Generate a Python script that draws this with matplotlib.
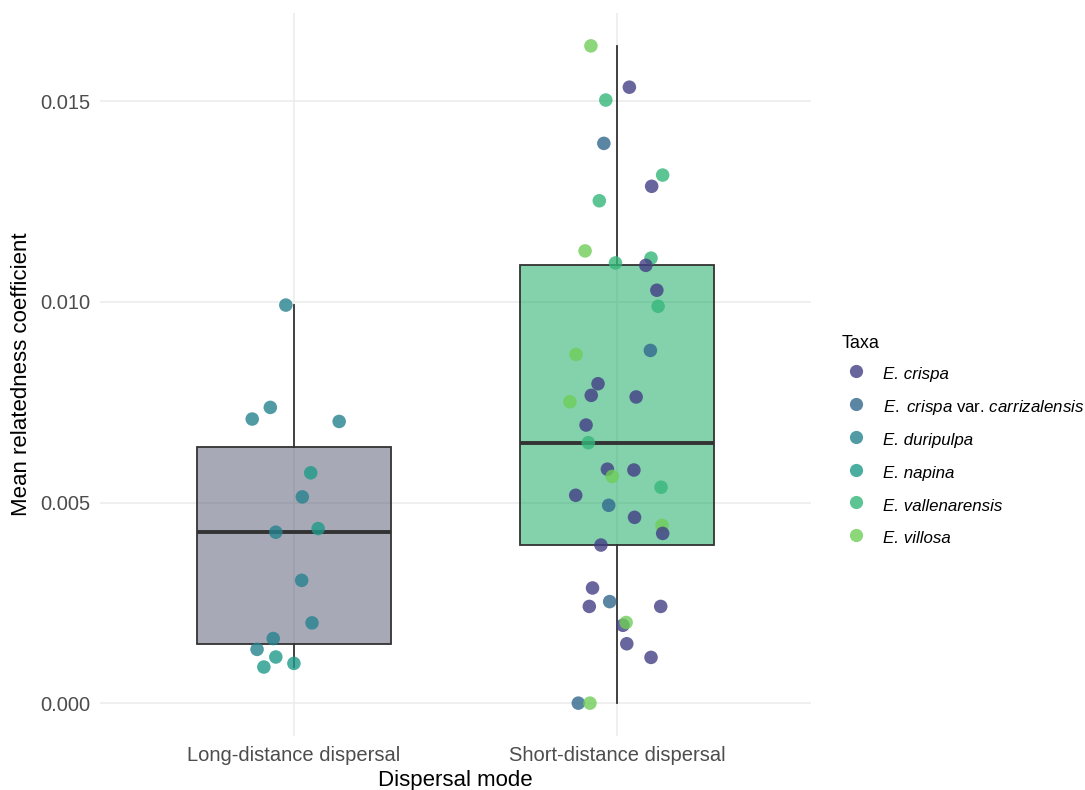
import numpy as np
import matplotlib
matplotlib.use('Agg')
import matplotlib.pyplot as plt
from matplotlib.lines import Line2D

plt.rcParams['font.family'] = 'Liberation Sans'
plt.rcParams['mathtext.fontset'] = 'custom'
plt.rcParams['mathtext.rm'] = 'Liberation Sans'
plt.rcParams['mathtext.it'] = 'Liberation Sans:italic'

# ---- data ----
modes = ['Long-distance dispersal', 'Short-distance dispersal']

taxa = ['E. crispa', 'E. crispa var. carrizalensis', 'E. duripulpa',
        'E. napina', 'E. vallenarensis', 'E. villosa']
taxa_labels = ['E. crispa',
               r'$\mathit{E.}$ $\mathit{crispa}$ var. $\mathit{carrizalensis}$',
               'E. duripulpa', 'E. napina', 'E. vallenarensis', 'E. villosa']
taxa_colours = ['#433e85', '#31688e', '#26828e', '#1f9a8a', '#35b779', '#6ece58']

long_taxa = ['E. duripulpa', 'E. duripulpa', 'E. duripulpa', 'E. duripulpa',
             'E. napina', 'E. duripulpa', 'E. duripulpa', 'E. napina',
             'E. duripulpa', 'E. duripulpa', 'E. duripulpa', 'E. duripulpa',
             'E. napina', 'E. napina', 'E. napina']
long_values = [0.00992, 0.00737, 0.00708, 0.00702, 0.00574, 0.00514, 0.00426,
               0.00435, 0.00306, 0.00200, 0.00161, 0.00134, 0.00115, 0.00090,
               0.00099]
long_jitter = [-0.025, -0.073, -0.129, 0.140, 0.052, 0.026, -0.056, 0.075,
               0.024, 0.056, -0.064, -0.114, -0.056, -0.093, 0.000]

short_taxa = ['E. villosa', 'E. crispa', 'E. vallenarensis',
              'E. crispa var. carrizalensis', 'E. vallenarensis', 'E. crispa',
              'E. vallenarensis', 'E. villosa', 'E. vallenarensis',
              'E. vallenarensis', 'E. crispa', 'E. crispa', 'E. vallenarensis',
              'E. crispa var. carrizalensis', 'E. villosa', 'E. crispa',
              'E. crispa', 'E. crispa', 'E. villosa', 'E. crispa',
              'E. vallenarensis', 'E. crispa', 'E. crispa', 'E. villosa',
              'E. vallenarensis', 'E. crispa', 'E. crispa var. carrizalensis',
              'E. crispa', 'E. villosa', 'E. crispa', 'E. crispa', 'E. crispa',
              'E. crispa var. carrizalensis', 'E. crispa', 'E. crispa',
              'E. crispa', 'E. villosa', 'E. crispa', 'E. crispa',
              'E. crispa var. carrizalensis', 'E. villosa']
short_values = [0.01638, 0.01535, 0.01503, 0.01395, 0.01316, 0.01288, 0.01252,
                0.01127, 0.01097, 0.01109, 0.01091, 0.01029, 0.00989, 0.00879,
                0.00869, 0.00796, 0.00767, 0.00763, 0.00751, 0.00693, 0.00649,
                0.00583, 0.00581, 0.00565, 0.00538, 0.00518, 0.00493, 0.00463,
                0.00443, 0.00423, 0.00394, 0.00287, 0.00253, 0.00241, 0.00241,
                0.00194, 0.00201, 0.00148, 0.00114, 0.00000, 0.00000]
short_jitter = [-0.081, 0.038, -0.035, -0.041, 0.141, 0.107, -0.055, -0.099,
                -0.005, 0.105, 0.089, 0.123, 0.127, 0.103, -0.127, -0.059,
                -0.080, 0.059, -0.146, -0.096, -0.089, -0.030, 0.052, -0.015,
                0.136, -0.128, -0.026, 0.054, 0.139, 0.141, -0.050, -0.076,
                -0.023, -0.086, 0.135, 0.018, 0.028, 0.030, 0.105, -0.120,
                -0.084]

box_fills = [(0.318, 0.333, 0.435, 0.5), (0.035, 0.655, 0.357, 0.5)]

# ---- figure ----
fig = plt.figure(figsize=(10.85, 7.9), dpi=100)
ax = fig.add_axes([100 / 1085, 54 / 790, 711 / 1085, 723 / 790])

bp = ax.boxplot([long_values, short_values], positions=[1, 2], widths=0.6,
                patch_artist=True, showcaps=False, showfliers=False,
                whis=1.5, zorder=2)
for patch, fc in zip(bp['boxes'], box_fills):
    patch.set_facecolor(fc)
    patch.set_edgecolor('#333333')
    patch.set_linewidth(1.3)
for w in bp['whiskers']:
    w.set_color('#333333')
    w.set_linewidth(1.3)
for m in bp['medians']:
    m.set_color('#333333')
    m.set_linewidth(2.8)

colour_of = dict(zip(taxa, taxa_colours))
for i, (tx, vals, jit) in enumerate([(long_taxa, long_values, long_jitter),
                                      (short_taxa, short_values, short_jitter)]):
    xs = np.array(jit) + i + 1
    cols = [colour_of[t] for t in tx]
    ax.scatter(xs, vals, s=95, c=cols, alpha=0.8, linewidths=0, zorder=3)

allv = np.array(long_values + short_values)
pad = 0.05 * (allv.max() - allv.min())
ax.set_ylim(allv.min() - pad, allv.max() + pad)
ax.set_xlim(0.4, 2.6)
ax.set_yticks([0, 0.005, 0.010, 0.015])
ax.set_yticklabels(['0.000', '0.005', '0.010', '0.015'])
ax.set_xticks([1, 2])
ax.set_xticklabels(modes)
ax.tick_params(length=0, labelsize=14.5, labelcolor='#4d4d4d')
ax.tick_params(axis='y', pad=7)
ax.tick_params(axis='x', pad=7)
ax.grid(True, color='#ebebeb', linewidth=1.1)
ax.set_axisbelow(True)
for s in ax.spines.values():
    s.set_visible(False)

ax.set_xlabel('Dispersal mode', fontsize=16, labelpad=4)
ax.set_ylabel('Mean relatedness coefficient', fontsize=16, labelpad=6)

handles = [Line2D([0], [0], marker='o', linestyle='none', markersize=9.5,
                  markerfacecolor=c, markeredgewidth=0, alpha=0.8)
           for c in taxa_colours]
leg = ax.legend(handles, taxa_labels, title='Taxa', loc='upper left',
                bbox_to_anchor=(842 / 1085, 1 - 335 / 790),
                bbox_transform=fig.transFigure, frameon=False, fontsize=12.2,
                title_fontsize=13, alignment='left', borderpad=0,
                borderaxespad=0, handlelength=1.65, handleheight=1.6,
                handletextpad=0.78, labelspacing=0.65)
for t in leg.get_texts():
    if '$' not in t.get_text():
        t.set_fontstyle('italic')

fig.savefig('out.png', dpi=100)
